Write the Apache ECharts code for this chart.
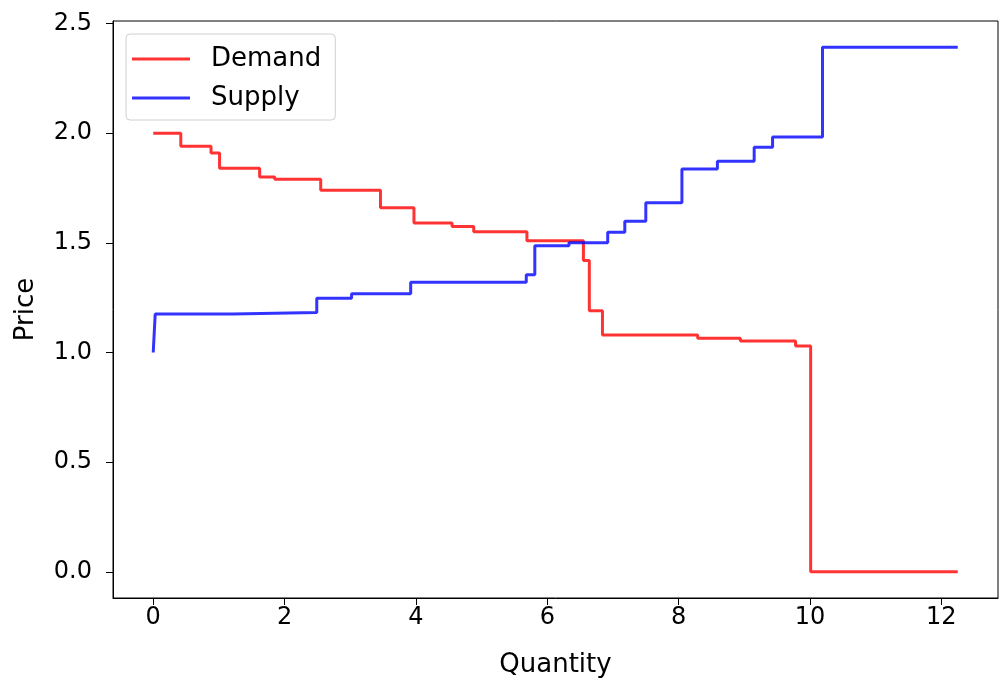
<!DOCTYPE html>
<html>
<head>
<meta charset="utf-8">
<script src="https://cdn.jsdelivr.net/npm/echarts@6/dist/echarts.min.js"></script>
<style>
html,body{margin:0;padding:0;background:#fff;}
#chart{width:1001px;height:679px;}
</style>
</head>
<body>
<div id="chart"></div>
<script>
// Demand step curve (post-step: y holds from x until next x)
const demandX = [0, 0.42, 0.88, 1.01, 1.62, 1.85, 2.55, 3.46, 3.97, 4.55, 4.88, 5.69, 6.55, 6.64, 6.84, 8.29, 8.94, 9.78, 10.01, 12.25];
const demandY = [2.00, 1.94, 1.91, 1.84, 1.80, 1.79, 1.74, 1.66, 1.59, 1.575, 1.55, 1.51, 1.42, 1.19, 1.08, 1.065, 1.052, 1.03, 0.0, 0.0];
// Supply step curve
const supplyX = [0, 0.03, 1.21, 2.49, 3.02, 3.92, 5.68, 5.81, 6.33, 6.92, 7.18, 7.50, 8.05, 8.59, 9.15, 9.43, 10.19, 12.25];
const supplyY = [1.0, 1.175, 1.182, 1.247, 1.268, 1.32, 1.355, 1.487, 1.50, 1.548, 1.598, 1.683, 1.837, 1.872, 1.936, 1.983, 2.392, 2.392];
// Tick labels
const xTicks = [0, 2, 4, 6, 8, 10, 12];
const yTicks = [0, 0.5, 1.0, 1.5, 2.0, 2.5];

const pairs = (xs, ys) => xs.map((x, i) => [x, ys[i]]);
const FONT = 'DejaVu Sans';

const chart = echarts.init(document.getElementById('chart'), null, {renderer: 'canvas'});
chart.setOption({
  animation: false,
  backgroundColor: '#fff',
  grid: {
    left: 113, right: 3, top: 21, bottom: 81,
    containLabel: false, outerBoundsMode: 'none',
    show: true, borderColor: '#000', borderWidth: 1, backgroundColor: 'transparent'
  },
  legend: {
    orient: 'vertical',
    left: 126, top: 34,
    icon: 'rect',
    itemWidth: 58, itemHeight: 3,
    itemGap: 11,
    padding: [11, 14, 8, 6],
    backgroundColor: 'rgba(255,255,255,0.8)',
    borderColor: '#d0d0d0', borderWidth: 1, borderRadius: 4,
    textStyle: {fontFamily: FONT, fontSize: 26, color: '#000', padding: [0, 0, 0, 16], lineHeight: 28},
    data: ['Demand', 'Supply']
  },
  xAxis: {
    type: 'value',
    min: -0.6125, max: 12.8625,
    name: 'Quantity', nameLocation: 'middle', nameGap: 54,
    nameTextStyle: {fontFamily: FONT, fontSize: 26, color: '#000'},
    axisLine: {show: true, onZero: false, lineStyle: {color: '#000', width: 1}},
    axisTick: {show: true, length: 7, customValues: xTicks, lineStyle: {color: '#000', width: 1}},
    axisLabel: {customValues: xTicks, margin: 8, fontFamily: FONT, fontSize: 24, color: '#000',
      formatter: v => String(v)},
    splitLine: {show: false}
  },
  yAxis: {
    type: 'value',
    min: -0.1196, max: 2.5116,
    name: 'Price', nameLocation: 'middle', nameGap: 74,
    nameTextStyle: {fontFamily: FONT, fontSize: 26, color: '#000'},
    axisLine: {show: true, onZero: false, lineStyle: {color: '#000', width: 1}},
    axisTick: {show: true, length: 7, customValues: yTicks, lineStyle: {color: '#000', width: 1}},
    axisLabel: {customValues: yTicks, margin: 21, fontFamily: FONT, fontSize: 24, color: '#000',
      formatter: v => Number(v).toFixed(1)},
    splitLine: {show: false}
  },
  series: [
    {
      name: 'Demand', type: 'line', step: 'end',
      data: pairs(demandX, demandY),
      showSymbol: false, symbol: 'none',
      itemStyle: {color: 'rgba(255,0,0,0.8)'},
      lineStyle: {color: 'rgba(255,0,0,0.8)', width: 3}
    },
    {
      name: 'Supply', type: 'line', step: 'end',
      data: pairs(supplyX, supplyY),
      showSymbol: false, symbol: 'none',
      itemStyle: {color: 'rgba(0,0,255,0.8)'},
      lineStyle: {color: 'rgba(0,0,255,0.8)', width: 3}
    }
  ]
});
</script>
</body>
</html>
